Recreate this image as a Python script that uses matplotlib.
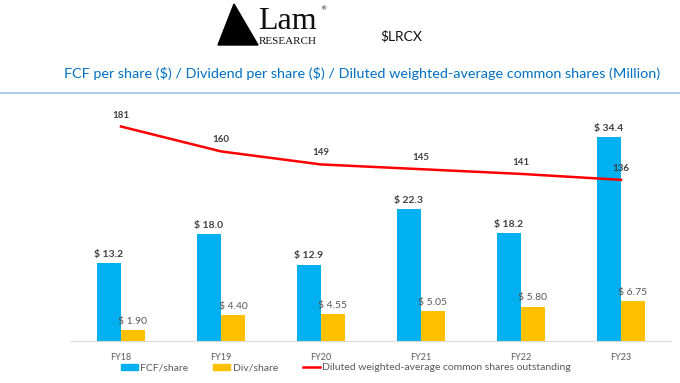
import matplotlib
matplotlib.use("Agg")
import matplotlib.pyplot as plt
import numpy as np
from matplotlib.patches import Polygon, Patch
from matplotlib.lines import Line2D

# data
years = ["FY18", "FY19", "FY20", "FY21", "FY22", "FY23"]
fcf_per_share = [13.2, 18.0, 12.9, 22.3, 18.2, 34.4]
div_per_share = [1.90, 4.40, 4.55, 5.05, 5.80, 6.75]
diluted_shares = [181, 160, 149, 145, 141, 136]

BLUE = "#00B0F0"
ORANGE = "#FFC000"
RED = "#FF0000"

plt.rcParams["font.family"] = ["Lato", "DejaVu Sans"]
plt.rcParams["text.parse_math"] = False

W, H = 680, 383
fig = plt.figure(figsize=(W / 100, H / 100), dpi=100)

def fx(px):
    return px / W

def fy(py):
    return 1 - py / H

# header: logo, ticker, title, rule
tri = Polygon([[fx(218), fy(45)], [fx(234), fy(4)], [fx(258), fy(45)]],
              closed=True, transform=fig.transFigure, color="black")
fig.patches.append(tri)
fig.text(fx(258), fy(29), "Lam", family=["Liberation Serif"], fontsize=23,
         ha="left", va="baseline", color="#111111")
fig.text(fx(259), fy(44), "RESEARCH", family=["Liberation Serif"], fontsize=8,
         ha="left", va="baseline", color="#111111")
fig.text(fx(322), fy(9), "\u00ae", fontsize=4, ha="left", va="center")
fig.text(fx(380), fy(36), "$LRCX", fontsize=10, ha="left", va="center", color="#111111")
fig.text(fx(64), fy(74), "FCF per share ($) / Dividend per share ($) / Diluted weighted-average common shares (Million)",
         fontsize=10.4, ha="left", va="center", color="#0070C0")
fig.add_artist(Line2D([0, 1], [fy(93), fy(93)], transform=fig.transFigure,
                      color="#9DC3E6", lw=1.2))

# main axes
ax = fig.add_axes([fx(71), fy(341), fx(600), (341 - 104) / H])
x = np.arange(len(years))
w = 0.24
ax.bar(x - w / 2, fcf_per_share, w, color=BLUE)
ax.bar(x + w / 2, div_per_share, w, color=ORANGE)
ax.set_ylim(0, 40)
ax.set_xlim(-0.5, len(years) - 0.5)
for xi, v in zip(x, fcf_per_share):
    ax.annotate(f"$ {v:.1f}", (xi - w / 2, v), xytext=(0, 3), textcoords="offset points",
                ha="center", va="bottom", fontsize=7.5, fontweight="bold", color="#404040")
for xi, v in zip(x, div_per_share):
    ax.annotate(f"$ {v:.2f}", (xi + w / 2, v), xytext=(0, 3), textcoords="offset points",
                ha="center", va="bottom", fontsize=7.5, color="#595959")

for s in ["top", "right", "left"]:
    ax.spines[s].set_visible(False)
ax.spines["bottom"].set_color("#D9D9D9")
ax.set_yticks([])
ax.set_xticks(x)
ax.set_xticklabels(years, fontsize=6.5, color="#595959")
ax.tick_params(axis="x", length=0, pad=9)

ax2 = ax.twinx()
ax2.set_ylim(0, 200)
ax2.plot(x, diluted_shares, color=RED, lw=1.8)
for xi, v in zip(x, diluted_shares):
    ax2.annotate(f"{v}", (xi, v), xytext=(0, 5), textcoords="offset points",
                 ha="center", va="bottom", fontsize=7, fontweight="bold", color="#404040")
ax2.axis("off")
ax2.set_xlim(-0.5, len(years) - 0.5)

handles = [Patch(color=BLUE), Patch(color=ORANGE), Line2D([0], [0], color=RED, lw=1.8)]
labels = ["FCF/share", "Div/share", "Diluted weighted-average common shares outstanding"]
fig.legend(handles, labels, loc="center", bbox_to_anchor=(fx(346), fy(368)), ncol=3,
           frameon=False, fontsize=7.5, handlelength=1.6, handleheight=0.45,
           columnspacing=2.4, handletextpad=0.25, labelcolor="#595959")

fig.savefig("out.png", dpi=100)
